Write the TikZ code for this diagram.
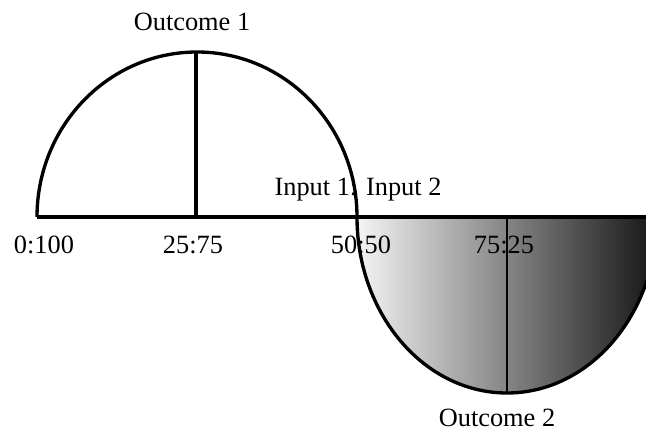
\documentclass[tikz,border=0pt]{standalone}
\usepackage{fontspec}
\setmainfont{Liberation Serif}
\usetikzlibrary{positioning}

\begin{document}
\begin{tikzpicture}[x=0.02cm, y=0.02cm,
        axisline/.style={line width=2.5pt},
        lobe/.style={line width=1.9pt},
        stem/.style={line width=2pt},
        lbl/.style={font=\fontsize{15}{18}\selectfont, inner sep=0pt}
    ]
        \useasboundingbox (0,0) rectangle (646,430);
        \clip (0,0) rectangle (646,430);

        \coordinate (axL) at (37,213);
        \coordinate (axR) at (646,213);
        \coordinate (mid) at (357,213);
        \coordinate (c1) at (196,213);
        \coordinate (c2) at (507,213);
        \coordinate (top1) at (196,378);
        \coordinate (bot2) at (507,37);

        % lower half, shaded
        \shade[left color=black!4, right color=black!92]
            (mid) arc[start angle=180, end angle=360, x radius=150, y radius=176] -- cycle;
        \draw[lobe] (mid) arc[start angle=180, end angle=360, x radius=150, y radius=176];
        % upper half
        \draw[lobe] (axL) arc[start angle=180, end angle=0, x radius=160, y radius=165];

        \draw[stem] (c1) -- (top1);
        \draw[stem, line width=1.2pt] (c2) -- (bot2);
        \draw[axisline] (axL) -- (axR);

        \node[lbl] (out1) at (192,408) {Outcome 1};
        \node[lbl] (inp) at (358,240) {Input 1: Input 2};
        \node[lbl] (r0) at (44,185) {0:100};
        \node[lbl] (r25) at (193,185) {25:75};
        \node[lbl] (r50) at (361,185) {50:50};
        \node[lbl] (r75) at (504,185) {75:25};
        \node[lbl] (out2) at (497,12) {Outcome 2};
    \end{tikzpicture}
\end{document}
